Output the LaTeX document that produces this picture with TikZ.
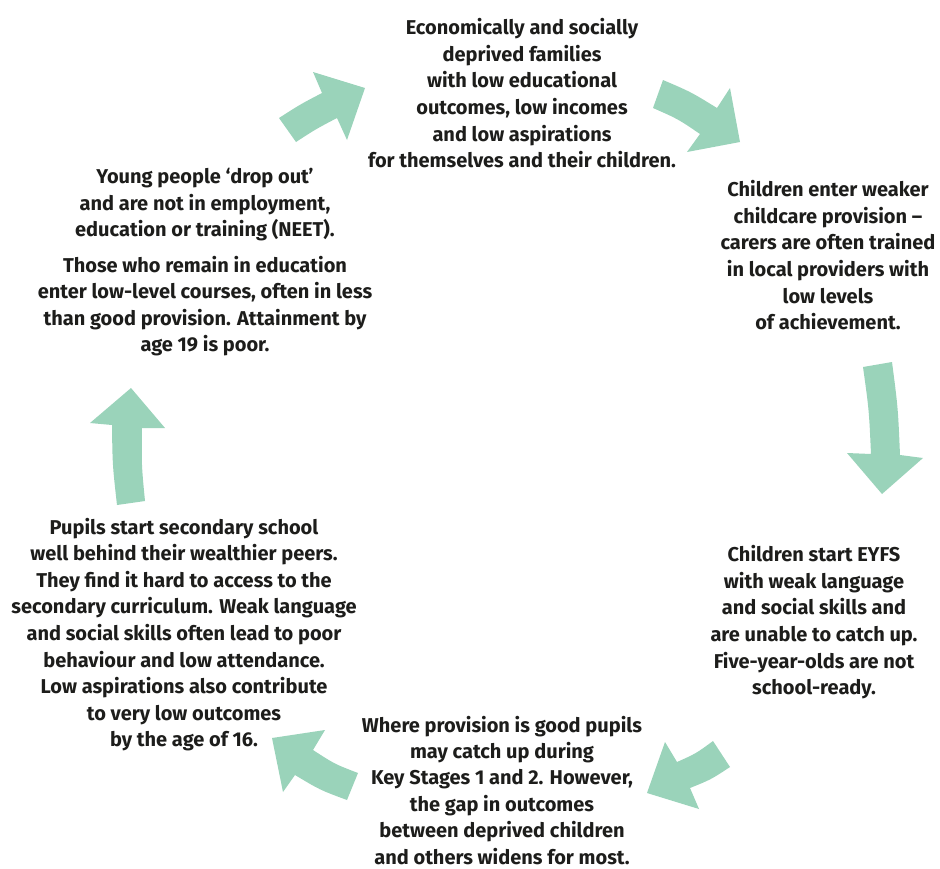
\documentclass[tikz,border=0pt]{standalone}
\usepackage{fontspec}
\setmainfont{Fira Sans}[BoldFont={Fira Sans Bold}]
\definecolor{arrowgreen}{RGB}{154,211,186}
\definecolor{txt}{RGB}{29,29,27}
\begin{document}
\begin{tikzpicture}[x=1pt,y=-1pt,
  blocktext/.style={anchor=north,align=center,inner sep=0pt,text=txt,
    font=\fontsize{20}{26.6}\selectfont\bfseries},
  blockarrow/.style={fill=arrowgreen,draw=none}]
\useasboundingbox (0,0) rectangle (940,868);
% text blocks
\node[blocktext] (top) at (522,18.2) {Economically and socially\\deprived families\\with low educational\\outcomes, low incomes\\and low aspirations\\for themselves and their children.};
\node[blocktext] (ru) at (828,180.2) {Children enter weaker\\childcare provision –\\carers are often trained\\in local providers with\\low levels\\of achievement.};
\node[blocktext] (rl) at (814,545.2) {Children start EYFS\\with weak language\\and social skills and\\are unable to catch up.\\Five-year-olds are not\\school-ready.};
\node[blocktext,font=\fontsize{20}{26.4}\selectfont\bfseries] (bot) at (502,715.6) {Where provision is good pupils\\may catch up during\\Key Stages 1 and 2. However,\\the gap in outcomes\\between deprived children\\and others widens for most.};
\node[blocktext] (ll) at (184,517.6) {Pupils start secondary school\\well behind their wealthier peers.\\They find it hard to access to the\\secondary curriculum. Weak language\\and social skills often lead to poor\\behaviour and low attendance.\\Low aspirations also contribute\\to very low outcomes\\by the age of 16.};
\node[blocktext] (lu) at (205,168.2) {Young people ‘drop out’\\and are not in employment,\\education or training (NEET).\\[8.5pt]Those who remain in education\\enter low-level courses, often in less\\than good provision. Attainment by\\age 19 is poor.};
% arrows
\fill[blockarrow] (279,118) .. controls (300,104.5) .. (322,93) -- (313,72) -- (365,88) -- (347,140) -- (337,118) .. controls (316,129) .. (296,142) -- cycle;
\fill[blockarrow] (663,80) .. controls (691,92) .. (717,108) -- (730,88) -- (740,142) -- (687,152) -- (700,134) .. controls (678,119) .. (653,108) -- cycle;
\fill[blockarrow] (863,367) -- (892,362) .. controls (898,408) .. (900,455) -- (923,458) -- (882,494) -- (847,453) -- (871,454) .. controls (869,410) .. (863,367) -- cycle;
\fill[blockarrow] (713,741) .. controls (696,753.5) .. (677,762) -- (665,742) -- (647,793) -- (699,809) -- (690,788) .. controls (711,779.5) .. (730,767) -- cycle;
\fill[blockarrow] (358,773) .. controls (334.6,764) .. (313,750) -- (325,730) -- (272,738) -- (283,792) -- (295,775) .. controls (320,790) .. (347,800) -- cycle;
\fill[blockarrow] (117,505) -- (145,501) .. controls (141.5,465) .. (142,428) -- (165,428) -- (131,388) -- (90,423) -- (112,425) .. controls (112.5,465) .. (117,505) -- cycle;
\end{tikzpicture}
\end{document}
